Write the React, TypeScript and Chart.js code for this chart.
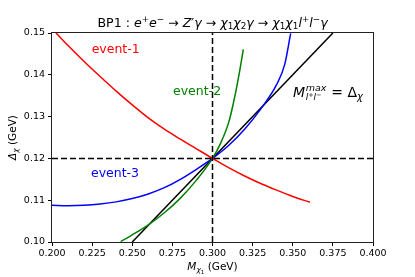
import React, { useEffect, useRef } from "react";
import { Chart, registerables } from "chart.js";

Chart.register(...registerables);

// ---- data ----
const event1X = [0.2025, 0.21, 0.22, 0.23, 0.24, 0.25, 0.26, 0.27, 0.28, 0.29, 0.3, 0.31, 0.32, 0.33, 0.34, 0.35, 0.3607];
const event1Y = [0.15, 0.147, 0.1432, 0.1396, 0.1361, 0.1328, 0.1297, 0.127, 0.1246, 0.1223, 0.12, 0.1178, 0.1158, 0.114, 0.1124, 0.1109, 0.1095];

const event2X = [0.2428, 0.25, 0.26, 0.27, 0.28, 0.29, 0.3, 0.305, 0.31, 0.313, 0.3167, 0.3192];
const event2Y = [0.1001, 0.1017, 0.1041, 0.107, 0.1105, 0.1148, 0.12, 0.1236, 0.1285, 0.1332, 0.1404, 0.1461];

const event3X = [0.2, 0.21, 0.22, 0.23, 0.24, 0.25, 0.26, 0.27, 0.28, 0.29, 0.3, 0.31, 0.32, 0.33, 0.34, 0.345, 0.3487];
const event3Y = [0.1088, 0.1087, 0.1088, 0.1091, 0.1096, 0.1104, 0.1115, 0.113, 0.115, 0.1174, 0.12, 0.1231, 0.127, 0.1318, 0.1377, 0.1425, 0.1499];

const edgeX = [0.25, 0.375];
const edgeY = [0.1, 0.15];

const vDashX = [0.3, 0.3];
const vDashY = [0.1, 0.15];
const hDashX = [0.2, 0.4];
const hDashY = [0.12, 0.12];

const xTicks = [0.2, 0.225, 0.25, 0.275, 0.3, 0.325, 0.35, 0.375, 0.4];
const yTicks = [0.1, 0.11, 0.12, 0.13, 0.14, 0.15];

const FONT = '"DejaVu Sans"';

type Seg = { t: string; size: number; italic?: boolean; dy?: number; color?: string };

function segFont(s: Seg) {
  return `${s.italic ? "italic " : ""}${s.size}px ${FONT}`;
}

function drawRich(ctx: CanvasRenderingContext2D, segs: Seg[], x: number, y: number, align: "left" | "center", color: string) {
  let total = 0;
  for (const s of segs) {
    ctx.font = segFont(s);
    total += ctx.measureText(s.t).width;
  }
  let cx = align === "center" ? x - total / 2 : x;
  ctx.textBaseline = "alphabetic";
  ctx.textAlign = "left";
  for (const s of segs) {
    ctx.font = segFont(s);
    ctx.fillStyle = s.color || color;
    ctx.fillText(s.t, cx, y + (s.dy || 0));
    cx += ctx.measureText(s.t).width;
  }
  return total;
}

function pts(xs: number[], ys: number[]) {
  return xs.map((x, i) => ({ x, y: ys[i] }));
}

const overlay = {
  id: "overlay",
  afterDraw(chart: any) {
    const ctx: CanvasRenderingContext2D = chart.ctx;
    const { left, right, top, bottom } = chart.chartArea;
    const xs = chart.scales.x;
    const ys = chart.scales.y;
    ctx.save();
    // frame
    ctx.strokeStyle = "#222";
    ctx.lineWidth = 1;
    ctx.strokeRect(Math.round(left) - 0.5, Math.round(top) - 0.5, Math.round(right - left) + 1, Math.round(bottom - top) + 1);

    // title
    const T = 12.6;
    const ts = 8.8;
    const title: Seg[] = [
      { t: "BP1 : ", size: T },
      { t: "e", size: T, italic: true },
      { t: "+", size: ts, dy: -5 },
      { t: "e", size: T, italic: true },
      { t: "\u2212", size: ts, dy: -5 },
      { t: " \u2192 ", size: T },
      { t: "Z", size: T, italic: true },
      { t: "\u2032", size: T },
      { t: "\u03b3", size: T, italic: true },
      { t: " \u2192 ", size: T },
      { t: "\u03c7", size: T, italic: true },
      { t: "1", size: ts, dy: 2 },
      { t: "\u03c7", size: T, italic: true },
      { t: "2", size: ts, dy: 2 },
      { t: "\u03b3", size: T, italic: true },
      { t: " \u2192 ", size: T },
      { t: "\u03c7", size: T, italic: true },
      { t: "1", size: ts, dy: 2 },
      { t: "\u03c7", size: T, italic: true },
      { t: "1", size: ts, dy: 2 },
      { t: "l", size: T, italic: true },
      { t: "+", size: ts, dy: -5 },
      { t: "l", size: T, italic: true },
      { t: "\u2212", size: ts, dy: -5 },
      { t: "\u03b3", size: T, italic: true },
    ];
    drawRich(ctx, title, (left + right) / 2, 27, "center", "#000");

    // event labels
    ctx.font = `12.5px ${FONT}`;
    ctx.textBaseline = "middle";
    ctx.textAlign = "left";
    ctx.fillStyle = "#ff0000";
    ctx.fillText("event-1", xs.getPixelForValue(0.2247), ys.getPixelForValue(0.1459));
    ctx.fillStyle = "#008000";
    ctx.fillText("event-2", xs.getPixelForValue(0.2754), ys.getPixelForValue(0.1359));
    ctx.fillStyle = "#0000ff";
    ctx.fillText("event-3", xs.getPixelForValue(0.2243), ys.getPixelForValue(0.1163));

    // M^max_{l+l-} = Delta_chi
    const ax = xs.getPixelForValue(0.3502);
    const ay = ys.getPixelForValue(0.1359) + 5;
    ctx.fillStyle = "#000";
    ctx.textBaseline = "alphabetic";
    ctx.font = `italic 14px ${FONT}`;
    ctx.fillText("M", ax, ay);
    let cx = ax + ctx.measureText("M").width + 0.5;
    ctx.font = `italic 9.5px ${FONT}`;
    ctx.fillText("max", cx, ay - 6);
    const wMax = ctx.measureText("max").width;
    const sub: Seg[] = [
      { t: "l", size: 9, italic: true },
      { t: "+", size: 6.5, dy: -3 },
      { t: "l", size: 9, italic: true },
      { t: "\u2212", size: 6.5, dy: -3 },
    ];
    const wSub = drawRich(ctx, sub, cx, ay + 3, "left", "#000");
    cx += Math.max(wMax, wSub) + 0.5;
    const rest: Seg[] = [
      { t: " = \u0394", size: 14 },
      { t: "\u03c7", size: 10, italic: true, dy: 3 },
    ];
    drawRich(ctx, rest, cx, ay, "left", "#000");

    // axis labels
    const xl: Seg[] = [
      { t: "M", size: 10.5, italic: true },
      { t: "\u03c7", size: 7.5, italic: true, dy: 2 },
      { t: "1", size: 5.5, dy: 4 },
      { t: " (GeV)", size: 10.5 },
    ];
    drawRich(ctx, xl, (left + right) / 2, 270, "center", "#000");

    ctx.save();
    ctx.translate(16, (top + bottom) / 2);
    ctx.rotate(-Math.PI / 2);
    const yl: Seg[] = [
      { t: "\u0394", size: 10.5, italic: true },
      { t: "\u03c7", size: 7.5, italic: true, dy: 2 },
      { t: " (GeV)", size: 10.5 },
    ];
    drawRich(ctx, yl, 0, 0, "center", "#000");
    ctx.restore();

    ctx.restore();
  },
};

export default function App() {
  const ref = useRef<HTMLCanvasElement | null>(null);
  useEffect(() => {
    document.body.style.margin = "0";
    if (!ref.current) return;
    const line = (data: any, color: string, extra: any = {}) => ({
      data,
      borderColor: color,
      backgroundColor: color,
      borderWidth: 1.5,
      showLine: true,
      pointRadius: 0,
      pointHoverRadius: 0,
      cubicInterpolationMode: "monotone",
      fill: false,
      ...extra,
    });
    const chart = new Chart(ref.current, {
      type: "scatter",
      data: {
        datasets: [
          line(pts(vDashX, vDashY), "#000", { borderDash: [6, 3], cubicInterpolationMode: "default", tension: 0 }),
          line(pts(hDashX, hDashY), "#000", { borderDash: [6, 3], cubicInterpolationMode: "default", tension: 0 }),
          line(pts(event1X, event1Y), "#ff0000"),
          line(pts(event2X, event2Y), "#008000"),
          line(pts(event3X, event3Y), "#0000ff"),
          line(pts(edgeX, edgeY), "#000", { cubicInterpolationMode: "default", tension: 0 }),
        ],
      },
      options: {
        animation: false,
        responsive: false,
        devicePixelRatio: 1,
        events: [],
        layout: { padding: { top: 33, right: 42, left: 0, bottom: 0 } },
        plugins: { legend: { display: false }, title: { display: false }, tooltip: { enabled: false } },
        scales: {
          x: {
            type: "linear",
            min: 0.2,
            max: 0.4,
            afterBuildTicks: (s: any) => {
              s.ticks = xTicks.map((v) => ({ value: v }));
            },
            afterFit: (s: any) => {
              s.height = 35;
            },
            grid: { drawOnChartArea: false, drawTicks: true, tickLength: 4, color: "#000" },
            border: { display: false },
            ticks: {
              color: "#000",
              padding: 2,
              maxRotation: 0,
              autoSkip: false,
              font: { family: "DejaVu Sans", size: 9.5 },
              callback: (v: any) => Number(v).toFixed(3),
            },
          },
          y: {
            type: "linear",
            min: 0.1,
            max: 0.15,
            afterBuildTicks: (s: any) => {
              s.ticks = yTicks.map((v) => ({ value: v }));
            },
            afterFit: (s: any) => {
              s.width = 52;
            },
            grid: { drawOnChartArea: false, drawTicks: true, tickLength: 4, color: "#000" },
            border: { display: false },
            ticks: {
              color: "#000",
              padding: 3,
              autoSkip: false,
              font: { family: "DejaVu Sans", size: 9.5 },
              callback: (v: any) => Number(v).toFixed(2),
            },
          },
        },
      },
      plugins: [overlay],
    } as any);
    return () => chart.destroy();
  }, []);
  return (
    <div style={{ width: 415, height: 277 }}>
      <canvas ref={ref} width={415} height={277} style={{ display: "block" }} />
    </div>
  );
}
